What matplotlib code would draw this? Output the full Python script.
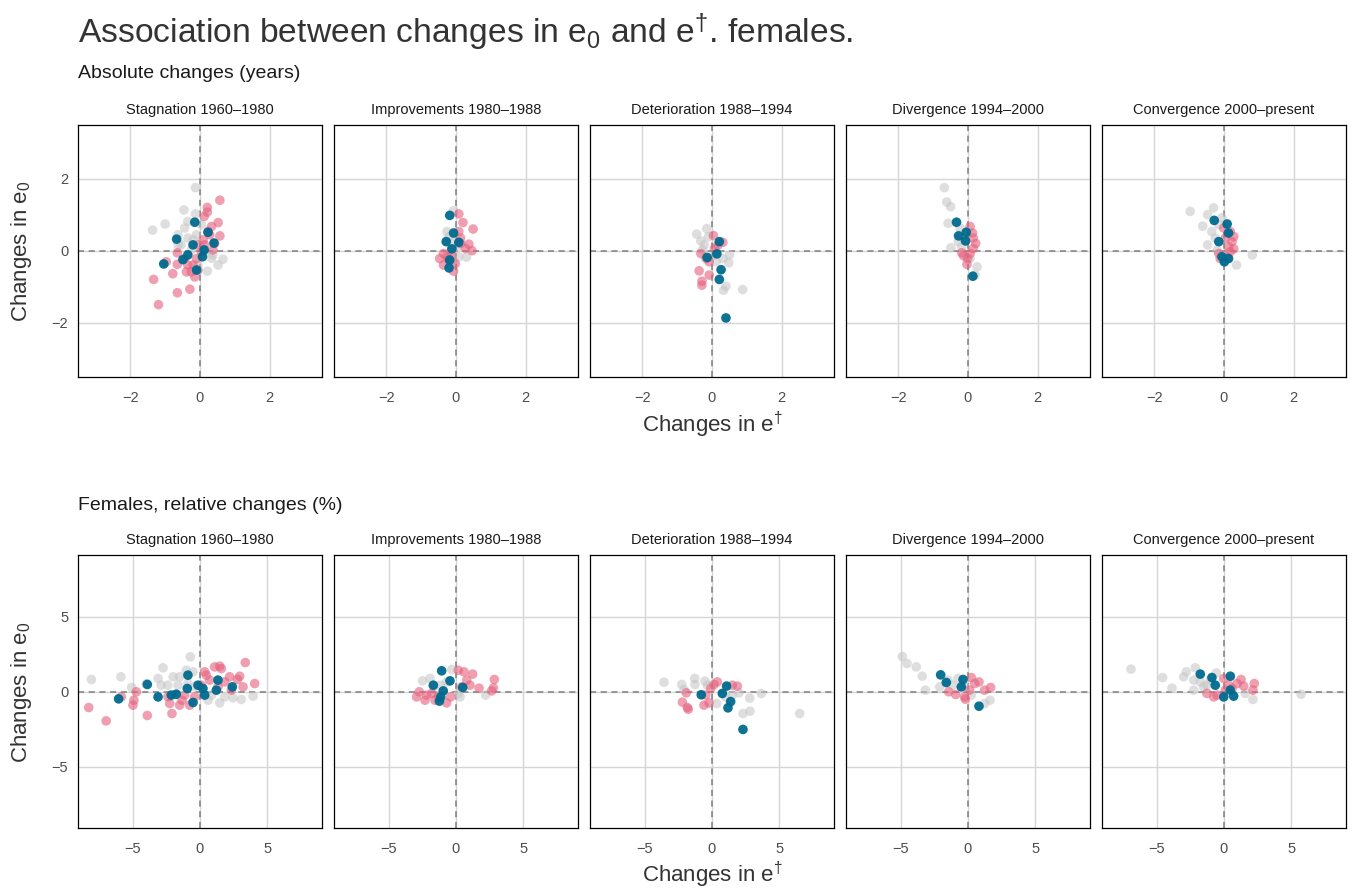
import matplotlib
matplotlib.use("Agg")
import matplotlib.pyplot as plt

plt.rcParams['font.family'] = ['Liberation Sans', 'DejaVu Sans']
plt.rcParams['mathtext.fontset'] = 'custom'
plt.rcParams['mathtext.rm'] = 'Liberation Sans'
plt.rcParams['mathtext.it'] = 'Liberation Sans'

periods = ["Stagnation 1960\u20131980", "Improvements 1980\u20131988",
           "Deterioration 1988\u20131994", "Divergence 1994\u20132000",
           "Convergence 2000\u2013present"]

# ---- absolute changes (years): (x = change in e-dagger, y = change in e0)
abs_gray = [
    [(-0.13, 1.76), (-0.46, 1.14), (-1.0, 0.75), (-1.36, 0.58), (-0.13, 1.03), (-0.35, 0.82),
     (-0.44, 0.64), (-0.63, 0.45), (-0.35, 0.36), (-0.2, 0.31), (-0.54, 0.17), (-0.25, 0.03),
     (0.13, -0.02), (0.33, -0.2), (0.66, -0.23), (0.52, -0.39), (0.21, -0.56), (-0.06, -0.39),
     (0.37, -0.11), (-0.63, 0.17), (0.04, 0.73), (-0.1, 0.45)],
    [(-0.07, 1.12), (-0.26, 0.54), (-0.2, 0.4), (-0.07, 0.31), (0.08, -0.16), (0.3, -0.17),
     (-0.12, -0.3), (0.03, 0.12), (-0.16, -0.02)],
    [(-0.44, 0.47), (-0.15, 0.62), (-0.32, 0.28), (-0.22, 0.17), (-0.1, 0.4), (0.5, -0.11),
     (0.48, -0.33), (0.12, -0.3), (0.31, -0.21), (0.4, -0.98), (0.33, -1.09), (0.88, -1.07),
     (-0.03, -0.16), (-0.27, 0.03)],
    [(-0.68, 1.76), (-0.61, 1.36), (-0.5, 1.23), (-0.57, 0.77), (-0.49, 0.09), (-0.23, 0.64),
     (-0.28, 0.26), (-0.13, 0.36), (-0.18, 0.12), (0.06, -0.21), (0.26, -0.44), (0.2, -0.67)],
    [(-0.97, 1.1), (-0.3, 1.2), (-0.47, 1.01), (-0.61, 0.69), (-0.06, 0.92), (-0.47, 0.17),
     (-0.25, 0.36), (-0.35, 0.54), (-0.15, 0.73), (0.81, -0.11), (0.36, -0.39), (-0.2, 0.03)],
]
abs_pink = [
    [(0.57, 1.41), (0.21, 1.21), (0.21, 1.08), (0.12, 0.96), (0.52, 0.79), (0.33, 0.68),
     (0.57, 0.42), (0.28, 0.45), (0.09, 0.31), (0.37, 0.03), (0.13, 0.17), (-0.06, 0.17),
     (-0.65, -0.05), (-0.65, -0.37), (-0.97, -0.3), (-0.78, -0.63), (-1.33, -0.79), (-0.65, -1.16),
     (-0.29, -1.06), (-1.19, -1.49), (-0.35, -0.39), (-0.25, -0.58), (-0.15, -0.72), (-0.39, -0.58),
     (-0.1, -0.21), (-0.2, -0.39), (-0.06, -0.53), (-0.44, -0.21), (0.23, 0.54), (0.42, 0.21),
     (0.04, -0.02)],
    [(0.08, 1.03), (0.2, 0.79), (0.49, 0.61), (0.08, 0.54), (0.13, 0.36), (0.37, 0.19),
     (0.46, 0.01), (0.27, 0.07), (-0.36, -0.07), (-0.47, -0.21), (-0.36, -0.39), (-0.21, -0.25),
     (-0.07, -0.56), (-0.02, -0.35), (-0.12, -0.11), (0.13, 0.21), (-0.26, -0.16)],
    [(0.04, 0.43), (0.31, 0.24), (0.16, 0.15), (-0.32, -0.07), (-0.08, -0.3), (-0.37, -0.55),
     (-0.08, -0.67), (-0.29, -0.84), (-0.29, -0.95), (-0.17, -0.21), (0.07, 0.07)],
    [(0.06, 0.68), (0.13, 0.5), (0.15, 0.36), (0.22, 0.21), (0.15, 0.07), (-0.18, -0.05),
     (-0.13, -0.13), (-0.01, -0.21), (-0.03, -0.37), (0.06, -0.07)],
    [(0.18, 0.54), (0.28, 0.4), (0.23, 0.26), (0.28, 0.06), (0.13, 0.12), (-0.01, 0.64),
     (-0.15, -0.07), (-0.11, -0.21), (0.09, -0.16), (0.04, 0.36), (0.18, -0.02)],
]
abs_blue = [
    [(-0.15, 0.8), (-0.67, 0.33), (0.23, 0.52), (0.4, 0.22), (-1.04, -0.36), (-0.49, -0.24),
     (-0.35, -0.11), (-0.1, -0.53), (0.07, -0.16), (-0.2, 0.17), (0.12, 0.03)],
    [(-0.18, 0.99), (-0.07, 0.5), (-0.28, 0.26), (0.08, 0.24), (-0.12, 0.06), (-0.18, -0.25),
     (-0.2, -0.47)],
    [(0.21, 0.26), (0.14, -0.08), (-0.14, -0.18), (0.26, -0.52), (0.21, -0.79), (0.4, -1.86)],
    [(-0.33, 0.8), (-0.27, 0.42), (-0.05, 0.52), (-0.07, 0.28), (0.14, -0.7)],
    [(-0.28, 0.85), (0.09, 0.75), (0.13, 0.5), (-0.15, 0.26), (0.01, -0.3), (-0.06, -0.16),
     (0.13, -0.21)],
]

# ---- relative changes (%)
rel_gray = [
    [(-8.1, 0.8), (-5.9, 0.98), (-5.1, 0.27), (-4.0, 0.53), (-2.76, 1.58), (-3.13, 0.87),
     (-2.9, 0.42), (-2.0, 0.98), (-1.64, 0.42), (-1.52, 0.98), (-0.72, 2.31), (-1.02, 1.42),
     (-0.52, 1.31), (-0.9, 0.53), (-0.4, 0.31), (0.6, -0.58), (1.47, -0.76), (2.46, -0.42),
     (3.08, -0.53), (3.96, -0.31), (-2.4, 0.42), (0.85, -0.24), (1.84, -0.36)],
    [(-2.49, 0.71), (-1.94, 0.87), (-0.32, 1.47), (-1.19, 0.42), (-0.7, 0.64), (0.17, -0.13),
     (0.3, -0.36), (2.21, -0.24), (-1.69, 0.31)],
    [(-3.58, 0.62), (-2.26, 0.47), (-2.09, 0.13), (-1.29, 0.87), (-1.27, 0.47), (-0.52, 0.69),
     (-0.35, 0.42), (0.35, -0.8), (1.02, -0.36), (2.01, -0.09), (2.81, -0.44), (3.68, -0.13),
     (2.31, -1.47), (2.84, -1.31), (6.54, -1.47), (1.52, -0.24)],
    [(-4.9, 2.33), (-4.55, 1.87), (-3.86, 1.64), (-3.41, 1.02), (-3.18, 0.09), (-2.11, 0.31),
     (-1.49, 0.76), (-0.75, 0.87), (-1.12, 0.42), (0.25, -0.24), (1.24, -0.8), (1.64, -0.58),
     (-0.25, 0.31)],
    [(-6.94, 1.49), (-4.58, 0.93), (-3.88, 0.22), (-3.01, 0.98), (-2.81, 1.31), (-2.14, 1.58),
     (-2.26, 0.76), (-2.26, 0.09), (-1.77, 0.64), (-1.52, 0.31), (-0.57, 1.24), (-1.02, 0.76),
     (1.59, -0.13), (2.16, -0.53), (5.75, -0.18), (-1.27, 0.42)],
]
rel_pink = [
    [(-8.3, -1.07), (-7.0, -1.96), (-5.87, -0.36), (-4.93, -0.58), (-4.75, -0.02), (-3.93, -1.6),
     (-5.0, -0.91), (-2.39, -0.36), (-2.26, -0.8), (-2.09, -1.47), (-1.52, -0.91), (-1.34, -0.58),
     (-0.77, -0.91), (-1.14, -0.24), (-0.4, -0.36), (0.35, 1.31), (1.09, 1.64), (1.47, 1.69),
     (1.59, 1.53), (3.38, 1.93), (4.08, 0.53), (2.96, 1.02), (2.79, 0.8), (3.21, 0.31),
     (2.21, 0.98), (1.84, 0.64), (1.34, 0.31), (0.72, 0.76), (0.1, 0.42), (2.34, 0.09),
     (0.47, 1.09)],
    [(0.17, 1.42), (0.6, 1.31), (1.24, 1.16), (0.8, 0.76), (1.04, 0.42), (1.72, 0.22),
     (2.86, 0.8), (2.79, 0.24), (2.66, 0.04), (0.42, 0.31), (-2.94, -0.36), (-2.74, -0.02),
     (-2.31, -0.58), (-1.82, -0.13), (-1.57, -0.58), (-0.7, -0.76), (-0.4, -0.36), (-1.32, -0.31),
     (-2.19, -0.24)],
    [(0.4, 0.64), (0.15, 0.47), (-0.1, 0.2), (-1.92, -0.09), (-2.21, -0.71), (-1.77, -1.18),
     (-1.84, -1.07), (-0.6, -0.91), (-0.22, -0.76), (1.52, 0.42), (1.89, 0.36), (-0.47, -0.24)],
    [(0.25, 0.93), (0.82, 0.64), (0.5, 0.53), (1.69, 0.27), (1.24, 0.09), (-1.44, -0.02),
     (-0.92, -0.2), (-0.25, -0.36), (-0.2, -0.51), (0.12, 0.09)],
    [(-0.02, 0.87), (1.27, 0.8), (2.26, 0.53), (2.16, 0.09), (1.47, 0.36), (0.97, 0.53),
     (0.6, 0.2), (-1.27, -0.13), (-0.77, -0.36), (-0.52, -0.24), (0.1, 0.09), (0.35, 0.42)],
]
rel_blue = [
    [(-6.07, -0.49), (-3.93, 0.47), (-3.13, -0.36), (-2.14, -0.24), (-1.77, -0.18), (-0.9, 1.09),
     (-0.95, 0.2), (-0.52, -0.73), (-0.15, 0.42), (0.35, -0.24), (0.22, 0.2), (1.34, 0.76),
     (1.22, 0.09), (2.41, 0.31)],
    [(-1.07, 1.38), (-0.45, 0.71), (-1.69, 0.42), (-0.95, 0.04), (-1.24, -0.64), (0.5, 0.27),
     (-1.14, -0.36)],
    [(1.09, 0.36), (-0.8, -0.22), (0.77, -0.13), (1.39, -0.67), (1.19, -1.09), (2.31, -2.53)],
    [(-2.04, 1.11), (-1.62, 0.6), (-0.37, 0.8), (-0.5, 0.31), (0.82, -0.98)],
    [(-1.77, 1.16), (-0.9, 0.93), (0.47, 1.02), (-0.02, -0.36), (0.72, -0.31), (-0.65, 0.42),
     (0.47, 0.09)],
]

GRAY = "#c4c4c4"
PINK = "#e5607c"
BLUE = "#006a8e"

W, H = 1356, 894
fig = plt.figure(figsize=(W / 100, H / 100), dpi=100)

panel_x = [78, 334, 590, 846, 1102]
panel_w = 244
rows = [
    dict(top=125, bottom=377, lim=3.5, ticks=[-2, 0, 2], gray=abs_gray, pink=abs_pink, blue=abs_blue),
    dict(top=555, bottom=828, lim=9.1, ticks=[-5, 0, 5], gray=rel_gray, pink=rel_pink, blue=rel_blue),
]

for r in rows:
    for i, px in enumerate(panel_x):
        ax = fig.add_axes([px / W, 1 - r['bottom'] / H, panel_w / W, (r['bottom'] - r['top']) / H])
        ax.set_xlim(-r['lim'], r['lim'])
        ax.set_ylim(-r['lim'], r['lim'])
        ax.set_xticks(r['ticks'])
        ax.set_yticks(r['ticks'])
        ax.set_xticklabels([str(t).replace('-', '\u2212') for t in r['ticks']])
        if i == 0:
            ax.set_yticklabels([str(t).replace('-', '\u2212') for t in r['ticks']])
        else:
            ax.set_yticklabels([])
        ax.tick_params(length=0, labelsize=10.5, colors='#4d4d4d')
        ax.tick_params(axis='x', pad=10)
        ax.tick_params(axis='y', pad=7)
        ax.grid(True, color='#d6d6d6', linewidth=1.0)
        ax.set_axisbelow(True)
        for s in ax.spines.values():
            s.set_color('black')
            s.set_linewidth(0.9)
        ax.axhline(0, color='#7f7f7f', linestyle=(0, (4, 3)), linewidth=1.1, zorder=1.5)
        ax.axvline(0, color='#7f7f7f', linestyle=(0, (4, 3)), linewidth=1.1, zorder=1.5)
        for pts, col, a in ((r['gray'][i], GRAY, 0.55), (r['pink'][i], PINK, 0.6), (r['blue'][i], BLUE, 0.95)):
            xs = [p[0] for p in pts]
            ys = [p[1] for p in pts]
            ax.scatter(xs, ys, s=48, color=col, alpha=a, edgecolors='none', zorder=3)
        ax.set_title(periods[i], fontsize=10.5, color='#1a1a1a', pad=8)

fig.text(78 / W, 1 - 32 / H, "Association between changes in e$_0$ and e$^{\u2020}$. females.",
         fontsize=24.2, color='#333333', ha='left', va='center')
fig.text(78 / W, 1 - 74 / H, "Absolute changes (years)", fontsize=14, color='#1a1a1a', ha='left', va='center')
fig.text(78 / W, 1 - 505 / H, "Females, relative changes (%)", fontsize=14, color='#1a1a1a', ha='left', va='center')

xlab = "Changes in e$^{\u2020}$"
ylab = "Changes in e$_0$"
fig.text(712 / W, 1 - 425 / H, xlab, fontsize=16, color='#333333', ha='center', va='center')
fig.text(712 / W, 1 - 875 / H, xlab, fontsize=16, color='#333333', ha='center', va='center')
fig.text(22 / W, 1 - 251 / H, ylab, fontsize=16, color='#333333', ha='center', va='center', rotation=90)
fig.text(22 / W, 1 - 692 / H, ylab, fontsize=16, color='#333333', ha='center', va='center', rotation=90)

fig.savefig("out.png", dpi=100, facecolor='white')
